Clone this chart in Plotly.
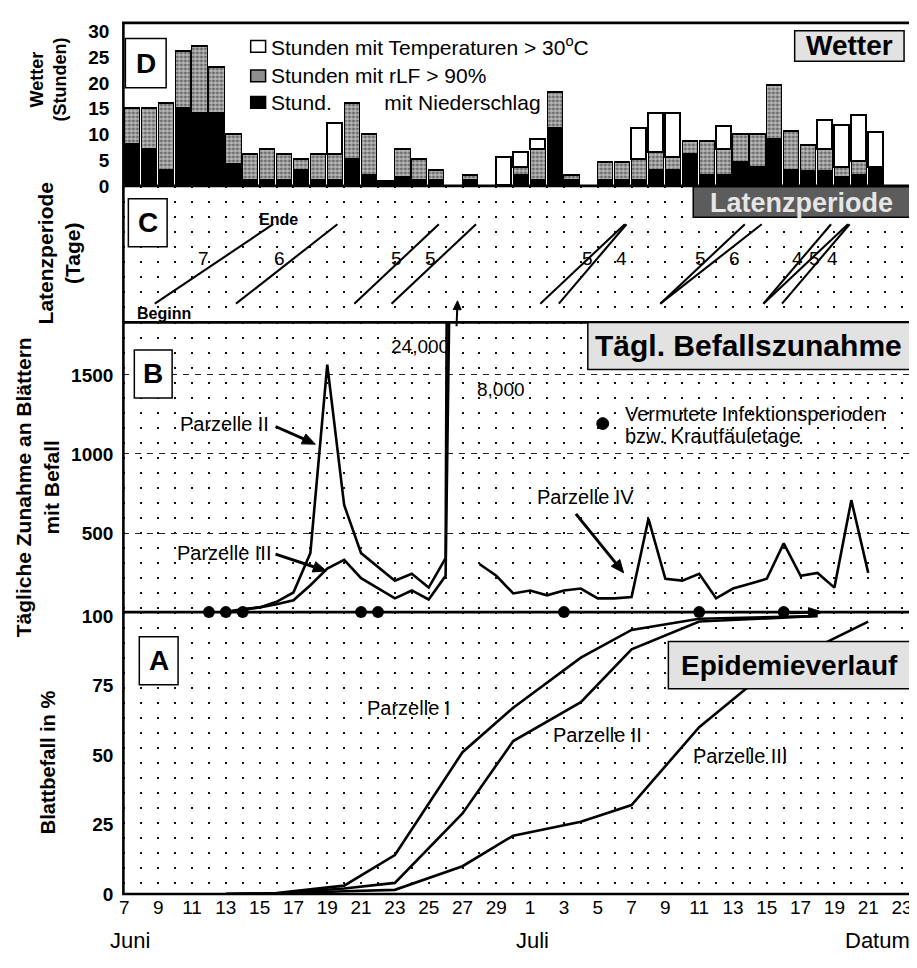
import math
import plotly.graph_objects as go
from plotly.subplots import make_subplots

# page body has an 8px margin -> figure sized so the page is exactly 917x968
OFF = 8
W, H = 917 - OFF, 968 - 2 * OFF
FONT = "Liberation Sans, Arial, Helvetica, sans-serif"

# ---------------- data ----------------
# day index: 0 = 7 June ... 46 = 23 July
tick_days = list(range(0, 47, 2))
tick_labels = ["7", "9", "11", "13", "15", "17", "19", "21", "23", "25", "27", "29",
               "1", "3", "5", "7", "9", "11", "13", "15", "17", "19", "21", "23"]

# Panel D: weather hours per day (day index 0..44)
wx_days = list(range(45))
hrs_rain = [8, 7, 3, 15, 14, 14, 4, 1, 1, 1, 3, 1, 1, 5, 2, 1, 1.5, 1, 1, 0, 1, 0, 0, 2, 1,
            11, 1, 0, 1, 1, 1, 3, 3, 6, 2, 2, 4.5, 3.5, 9, 3, 2.7, 2.7, 1.5, 2, 3.6]
hrs_rlf = [15, 15, 16, 26, 27, 23, 10, 6, 7, 6, 5, 6, 6, 16, 10, 1, 7, 5, 3, 0, 2, 0, 0, 3.5, 7,
           18, 2, 0, 4.5, 4.5, 5, 6.5, 5.5, 8.5, 8.5, 7, 10, 10, 19.5, 10.5, 7.7, 7, 3.6, 4.6, 3.6]
hrs_hot = [0, 0, 0, 0, 0, 0, 0, 0, 0, 0, 0, 0, 6, 0, 0, 0, 0, 0, 0, 0, 0, 0, 5.5, 3, 2,
           0, 0, 0, 0, 0, 6, 7.5, 8.5, 0, 0, 4.5, 0, 0, 0, 0, 0, 5.6, 8.1, 9, 6.7]

# Panel C: latency periods (start day, length in days)
lat_start = [1.8, 6.6, 13.6, 15.8, 24.6, 25.7, 31.7, 31.7, 37.8, 37.8, 38.9]
lat_len = [7, 6, 5, 5, 5, 4, 5, 6, 4, 5, 4]
lat_label_x = [4.7, 9.2, 16.1, 18.1, 27.4, 29.4, 34.1, 36.1, 39.8, 40.8, 41.9]

# Panel B: daily increase of infected leaves
b_days_23 = [6, 7, 8, 9, 10, 11, 12, 13, 14, 16, 17, 18, 19, 20]
b_parz2 = [0, 20, 30, 65, 124, 373, 1565, 677, 373, 199, 242, 155, 342, 24000]
b_parz3 = [0, 15, 30, 50, 75, 170, 275, 330, 215, 87, 137, 80, 230, 8000]
b_days_4 = list(range(21, 45))
b_parz4 = [304, 230, 118, 137, 106, 137, 149, 87, 87, 95, 590, 211, 199, 242, 87, 149,
           180, 211, 435, 230, 248, 155, 708, 248]
infection_days = [5, 6, 7, 14, 15, 26, 34, 39]

# Panel A: leaf infestation in %
a_days_12 = [6, 9, 13, 16, 20, 23, 27, 30, 34, 41]
a_parz1 = [0, 0.3, 3, 14, 51, 67, 85, 95, 99, 100]
a_parz2 = [0, 0.2, 2, 4, 29, 55, 69, 88, 98, 100]
a_days_3 = [6, 9, 13, 16, 20, 23, 27, 30, 34, 37, 41, 44]
a_parz3 = [0, 0.1, 1, 1.5, 10, 21, 26, 32, 60, 75, 89, 98]

# ---------------- helpers ----------------
def px(x):
    return (x - OFF) / W


def py(y):
    return 1 - (y - OFF) / H


X0, X1 = 120, 913
rows_px = {1: (17, 183), 2: (183, 322), 3: (322, 617), 4: (617, 904)}

fig = make_subplots(rows=4, cols=1, shared_xaxes=True, vertical_spacing=0)

# ---- D: weather bars (stacked) ----
seg_black = [r if r > 0 else None for r in hrs_rain]
seg_gray = [(g - r) if (g - r) > 0 else None for g, r in zip(hrs_rlf, hrs_rain)]
seg_white = [h if h > 0 else None for h in hrs_hot]
bx = [d + 0.5 for d in wx_days]
fig.add_trace(go.Bar(x=bx, y=seg_black, width=0.9, marker=dict(color="black", line=dict(color="black", width=1.2)),
                     showlegend=False), row=1, col=1)
fig.add_trace(go.Bar(x=bx, y=seg_gray, width=0.9,
                     marker=dict(color="#8a8a8a", line=dict(color="black", width=1.7),
                                 pattern=dict(shape=".", fgcolor="#111", bgcolor="#bdbdbd", size=4, solidity=0.5)),
                     showlegend=False), row=1, col=1)
fig.add_trace(go.Bar(x=bx, y=seg_white, width=0.9, marker=dict(color="white", line=dict(color="black", width=1.9)),
                     showlegend=False), row=1, col=1)

# ---- C: latency lines ----
Y_BEG, Y_END = 0.137, 0.719
lx, ly = [], []
for s, L in zip(lat_start, lat_len):
    lx += [s, s + L, None]
    ly += [Y_BEG, Y_END, None]
fig.add_trace(go.Scatter(x=lx, y=ly, mode="lines", line=dict(color="black", width=2.1), showlegend=False,
                         hoverinfo="skip"), row=2, col=1)

# ---- B: daily increase ----
fig.add_trace(go.Scatter(x=b_days_23, y=b_parz2, mode="lines", line=dict(color="black", width=2.6),
                         showlegend=False), row=3, col=1)
fig.add_trace(go.Scatter(x=b_days_23, y=b_parz3, mode="lines", line=dict(color="black", width=2.6),
                         showlegend=False), row=3, col=1)
fig.add_trace(go.Scatter(x=b_days_4, y=b_parz4, mode="lines", line=dict(color="black", width=2.6),
                         showlegend=False), row=3, col=1)
fig.add_trace(go.Scatter(x=infection_days, y=[0] * len(infection_days), mode="markers",
                         marker=dict(color="black", size=12), cliponaxis=False, showlegend=False),
              row=3, col=1)

# ---- A: epidemic course ----
for xs, ys in [(a_days_12, a_parz1), (a_days_12, a_parz2), (a_days_3, a_parz3)]:
    fig.add_trace(go.Scatter(x=xs, y=ys, mode="lines", line=dict(color="black", width=2.6),
                             showlegend=False, cliponaxis=False), row=4, col=1)

# ---------------- axes ----------------
grid_style = dict(gridcolor="#111", gridwidth=1.6, griddash="2px,13px")
for r in range(1, 5):
    ax = dict(range=[-0.06, 46.59], tickmode="array", tickvals=tick_days, ticktext=tick_labels,
              showline=False, zeroline=False, ticks="",
              domain=[px(X0), px(X1)],
              showticklabels=(r == 4),
              tickfont=dict(family=FONT, size=19, color="black"),
              showgrid=(r != 1),
              minor=dict(tickmode="linear", tick0=1, dtick=2, showgrid=(r != 1), **grid_style),
              **grid_style)
    fig.update_xaxes(ax, row=r, col=1)

for r, (top, bot) in rows_px.items():
    fig.update_yaxes(domain=[py(bot), py(top)], row=r, col=1)

fig.update_yaxes(range=[0, 31.7], tickvals=[0, 5, 10, 15, 20, 25, 30], showgrid=False, zeroline=False,
                 ticks="", ticklabelstandoff=13,
                 tickfont=dict(family=FONT, size=19, color="black", weight="bold"), row=1, col=1)
fig.update_yaxes(range=[0, 1], showticklabels=False, showgrid=False, zeroline=False, row=2, col=1)
fig.update_yaxes(range=[0, 1832], tickvals=[500, 1000, 1500], showgrid=True, gridcolor="#222",
                 gridwidth=1, griddash="6px,6px", zeroline=False, ticks="", ticklabelstandoff=9,
                 tickfont=dict(family=FONT, size=19, color="black", weight="bold"), row=3, col=1)
fig.update_yaxes(range=[0, 101.4], tickvals=[0, 25, 50, 75, 100], showgrid=False, zeroline=False,
                 ticks="", ticklabelstandoff=9,
                 tickfont=dict(family=FONT, size=19, color="black", weight="bold"), row=4, col=1)

# ---------------- shapes ----------------
shapes = []
shapes.append(dict(type="rect", xref="paper", yref="paper", x0=px(X0), x1=px(X1), y0=py(904), y1=py(17),
                   line=dict(color="black", width=2.6), layer="above"))
for yy in (183, 322, 617):
    shapes.append(dict(type="line", xref="paper", yref="paper", x0=px(X0), x1=px(X1), y0=py(yy), y1=py(yy),
                       line=dict(color="black", width=2.6), layer="above"))


def box(x0, y0, x1, y1, fill, lw=1.5):
    shapes.append(dict(type="rect", xref="paper", yref="paper", x0=px(x0), x1=px(x1), y0=py(y1), y1=py(y0),
                       fillcolor=fill, line=dict(color="black", width=lw), layer="above"))


def arrow(xt, yt, xh, yh, width=3, head=13, half=5.5):
    dx, dy = xh - xt, yh - yt
    n = math.hypot(dx, dy)
    ux, uy = dx / n, dy / n
    bx_, by_ = xh - head * ux, yh - head * uy
    shapes.append(dict(type="line", xref="paper", yref="paper", x0=px(xt), y0=py(yt), x1=px(bx_ + 2 * ux),
                       y1=py(by_ + 2 * uy), line=dict(color="black", width=width), layer="above"))
    p1 = (bx_ - half * uy, by_ + half * ux)
    p2 = (bx_ + half * uy, by_ - half * ux)
    path = "M {:.5f},{:.5f} L {:.5f},{:.5f} L {:.5f},{:.5f} Z".format(
        px(xh), py(yh), px(p1[0]), py(p1[1]), px(p2[0]), py(p2[1]))
    shapes.append(dict(type="path", xref="paper", yref="paper", path=path, fillcolor="black",
                       line=dict(color="black", width=1), layer="above"))


# panel letter boxes
box(122, 33, 163, 83, "white")
box(125, 196, 164, 245, "white")
box(131, 350, 169, 399, "white")
box(136, 642, 175, 691, "white")
# title boxes
box(795, 25, 905, 56, "#e2e2e2")
box(693, 184, 912, 215, "#5c5c5c")
box(587, 322, 911, 370, "#e2e2e2")
box(668, 647, 912, 695, "#e2e2e2")
# legend squares in D
box(248, 35, 263, 47, "white", 1.5)
box(248, 65, 263, 77, "#8e8e8e", 1.5)
box(248, 92, 263, 104, "black", 1.5)
# legend dot for infection periods
shapes.append(dict(type="circle", xref="paper", yref="paper", x0=px(596), x1=px(608), y0=py(431), y1=py(419),
                   fillcolor="black", line=dict(color="black", width=1), layer="above"))
# arrows
arrow(273, 428, 313, 446)
arrow(273, 558, 324, 575)
arrow(575, 517, 623, 577)
arrow(455, 326, 456, 300, 2, 9, 4)
arrow(790, 618, 823, 617, 2.5, 14, 5)

# ---------------- annotations ----------------
ann = []


def txt(x, y, s, size=19, bold=False, anchor="center", color="black", angle=0):
    ann.append(dict(x=px(x), y=py(y), xref="paper", yref="paper", text=s, showarrow=False,
                    xanchor=anchor, yanchor="middle", textangle=angle,
                    font=dict(family=FONT, size=size, color=color, weight="bold" if bold else "normal")))


# y-axis titles
txt(45, 75, "Wetter<br>(Stunden)", 18, True, angle=-90)
txt(55, 252, "Latenzperiode<br>(Tage)", 21, True, angle=-90)
txt(34, 490, "Tägliche Zunahme an Blättern<br>mit Befall", 21, True, angle=-90)
txt(45, 770, "Blattbefall in %", 20, True, angle=-90)
# x-axis labels
txt(127, 951, "Juni", 22)
txt(531, 951, "Juli", 22)
txt(878, 951, "Datum", 22)
# panel letters
txt(142.5, 58, "D", 28, True)
txt(144.5, 220, "C", 28, True)
txt(150, 374, "B", 28, True)
txt(155.5, 666, "A", 28, True)
# title boxes
txt(850, 40, "Wetter", 28, True)
txt(802, 200, "Latenzperiode", 27, True, color="#e6e6e6")
txt(749, 346, "Tägl. Befallszunahme", 30, True)
txt(790, 671, "Epidemieverlauf", 28, True)
# D legend
txt(266, 41, "Stunden mit Temperaturen > 30<sup>o</sup>C", 21, anchor="left")
txt(266, 71, "Stunden mit rLF > 90%", 21, anchor="left")
txt(266, 98, "Stund.\u00a0\u00a0\u00a0\u00a0\u00a0\u00a0\u00a0\u00a0 mit Niederschlag", 21, anchor="left")
# C labels
txt(276, 217, "Ende", 16, True)
txt(161, 313, "Beginn", 16, True)
for lxv, L in zip(lat_label_x, lat_len):
    txt(121 + 17 * lxv, 257, str(L), 19)
# B labels
txt(418, 347, "24,000", 19)
txt(500, 390, "8,000", 19)
txt(622, 415, "Vermutete Infektionsperioden", 20, anchor="left")
txt(622, 438, "bzw. Krautfäuletage", 20, anchor="left")
txt(222, 425, "Parzelle II", 20)
txt(221, 557, "Parzelle III", 20)
txt(585, 500, "Parzelle IV", 20)
# A labels
txt(407, 715, "Parzelle I", 20)
txt(597, 742, "Parzelle II", 20)
txt(740, 763, "Parzelle III", 20)

fig.update_layout(width=W, height=H, margin=dict(l=0, r=0, t=0, b=0), barmode="stack", bargap=0,
                  plot_bgcolor="white", paper_bgcolor="white", showlegend=False,
                  shapes=shapes, annotations=ann, font=dict(family=FONT, color="black"))

fig.write_html("out.html")
